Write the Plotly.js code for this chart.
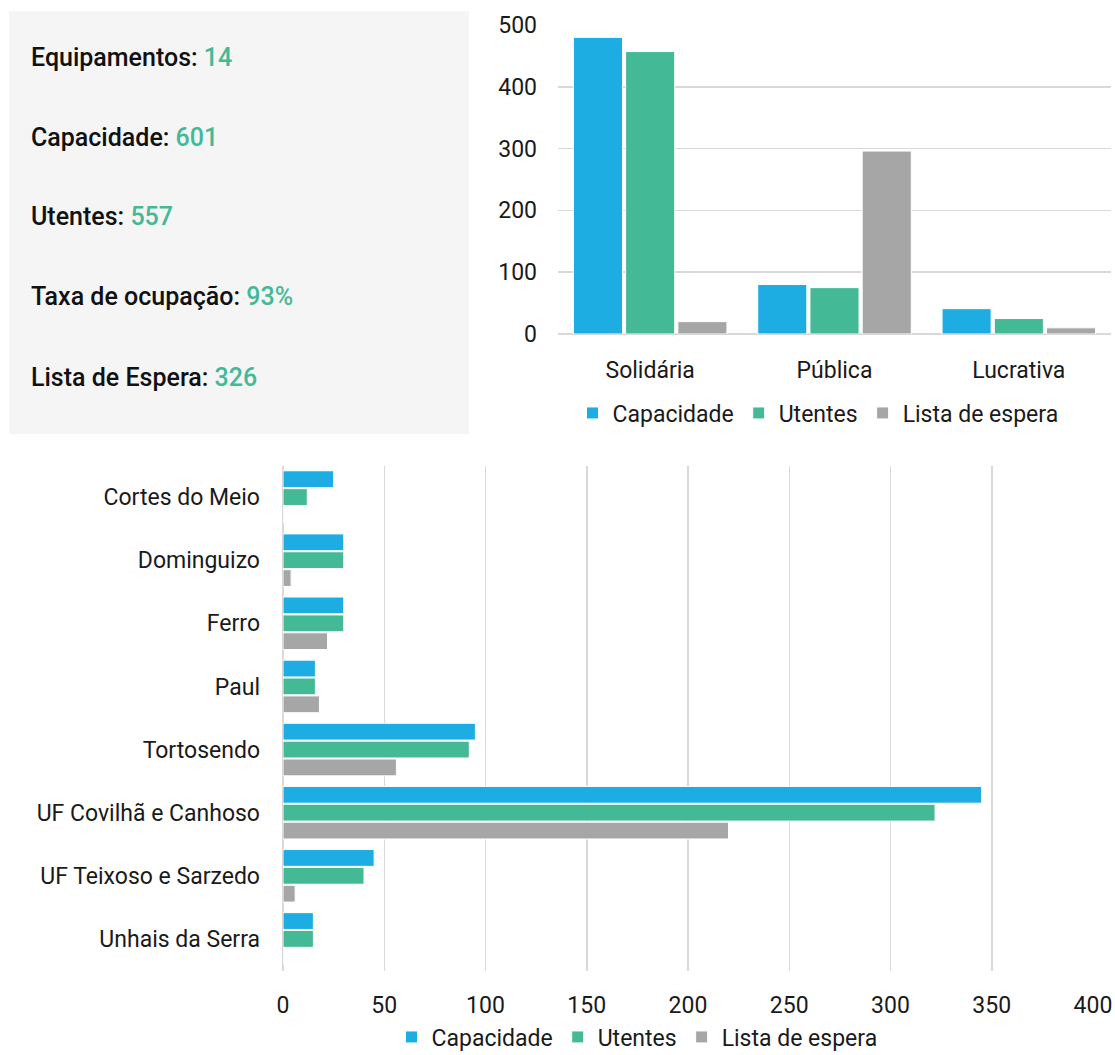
<!DOCTYPE html>
<html>
<head>
<meta charset="utf-8">
<script src="https://cdn.plot.ly/plotly-3.0.1.min.js"></script>
<style>html,body{margin:0;padding:0;background:#fff;}#chart{width:1115px;height:1055px;}</style>
</head>
<body>
<div id="chart"></div>
<script>
// ---- data ----
const seriesNames = ["Capacidade", "Utentes", "Lista de espera"];
const seriesColors = ["#1eade3", "#43b995", "#a6a6a6"];

const typeCategories = ["Solidária", "Pública", "Lucrativa"];
const typeCapacidade = [480, 80, 41];
const typeUtentes = [457, 75, 25];
const typeLista = [20, 296, 10];

const parishCategories = ["Cortes do Meio", "Dominguizo", "Ferro", "Paul", "Tortosendo",
  "UF Covilhã e Canhoso", "UF Teixoso e Sarzedo", "Unhais da Serra"];
const parishCapacidade = [25, 30, 30, 16, 95, 345, 45, 15];
const parishUtentes = [12, 30, 30, 16, 92, 322, 40, 15];
const parishLista = [0, 4, 22, 18, 56, 220, 6, 0];

const statLabels = ["Equipamentos", "Capacidade", "Utentes", "Taxa de ocupação", "Lista de Espera"];
const statValues = ["14", "601", "557", "93%", "326"];

const yTicksTop = [0, 100, 200, 300, 400, 500];
const xTicksBottom = [0, 50, 100, 150, 200, 250, 300, 350, 400];

// ---- helpers ----
const W = 1115, H = 1055;
const px = v => v / W;
const py = v => 1 - v / H;
const FONT = "Roboto, 'Open Sans', sans-serif";
const TXT = "#1a1a1a";
const FS = 23;

const topVals = [typeCapacidade, typeUtentes, typeLista];
const botVals = [parishCapacidade, parishUtentes, parishLista];

const traces = [];
seriesNames.forEach((n, i) => {
  traces.push({
    type: "bar", name: n, x: typeCategories, y: topVals[i],
    xaxis: "x", yaxis: "y", legend: "legend",
    marker: {color: seriesColors[i], line: {color: "#ffffff", width: 1}},
    hoverinfo: "x+y+name"
  });
});
seriesNames.forEach((n, i) => {
  traces.push({
    type: "bar", orientation: "h", name: n, y: parishCategories, x: botVals[i],
    xaxis: "x2", yaxis: "y2", legend: "legend2",
    marker: {color: seriesColors[i], line: {color: "#ffffff", width: 1}},
    hoverinfo: "x+y+name"
  });
});

const annotations = statLabels.map((l, i) => ({
  xref: "paper", yref: "paper",
  x: px(29), y: py([57, 137, 216, 296, 377][i]),
  xanchor: "left", yanchor: "middle", showarrow: false,
  text: l + ": <span style='color:#43b995'>" + statValues[i] + "</span>",
  font: {family: FONT, size: 25, color: "#111", weight: 500}
}));

const layout = {
  width: W, height: H,
  margin: {l: 0, r: 0, t: 0, b: 0, autoexpand: false},
  paper_bgcolor: "#ffffff", plot_bgcolor: "rgba(0,0,0,0)",
  font: {family: FONT, size: FS, color: TXT},
  barmode: "group",
  bargap: 0.15, bargroupgap: 0.06,
  showlegend: true,
  shapes: [{
    type: "rect", xref: "paper", yref: "paper",
    x0: px(9), x1: px(469), y0: py(434), y1: py(11),
    fillcolor: "#f5f5f5", line: {width: 0}, layer: "below"
  }],
  annotations: annotations,
  xaxis: {
    domain: [px(558), px(1111)], anchor: "y",
    showgrid: false, zeroline: false, showline: false, ticks: "",
    ticklabelstandoff: 20, tickfont: {size: FS, color: TXT}, fixedrange: true
  },
  yaxis: {
    domain: [py(334), py(25)], anchor: "x",
    range: [0, 500], tickvals: yTicksTop,
    showgrid: true, gridcolor: "#d9d9d9", gridwidth: 1.5,
    zeroline: true, zerolinecolor: "#d9d9d9", zerolinewidth: 1.5,
    showline: false, ticks: "",
    ticklabelstandoff: 20, tickfont: {size: FS, color: TXT}, fixedrange: true
  },
  xaxis2: {
    domain: [px(283), px(1093)], anchor: "y2",
    range: [0, 400], tickvals: xTicksBottom,
    showgrid: true, gridcolor: "#d9d9d9", gridwidth: 1.5,
    zeroline: true, zerolinecolor: "#d9d9d9", zerolinewidth: 1.5,
    showline: false, ticks: "",
    ticklabelstandoff: 18, tickfont: {size: FS, color: TXT}, fixedrange: true
  },
  yaxis2: {
    domain: [py(970.5), py(465.5)], anchor: "x2",
    autorange: "reversed",
    showgrid: false, zeroline: false, showline: false, ticks: "",
    ticklabelstandoff: 22, tickfont: {size: FS, color: TXT}, fixedrange: true
  },
  legend: {
    orientation: "h",
    x: px(818), y: py(413), xanchor: "center", yanchor: "middle",
    font: {size: FS, color: TXT}, bgcolor: "rgba(0,0,0,0)",
    itemwidth: 30, tracegroupgap: 0
  },
  legend2: {
    orientation: "h",
    x: px(637), y: py(1037), xanchor: "center", yanchor: "middle",
    font: {size: FS, color: TXT}, bgcolor: "rgba(0,0,0,0)",
    itemwidth: 30, tracegroupgap: 0
  }
};

Plotly.newPlot("chart", traces, layout, {displayModeBar: false, staticPlot: true});
</script>
</body>
</html>
